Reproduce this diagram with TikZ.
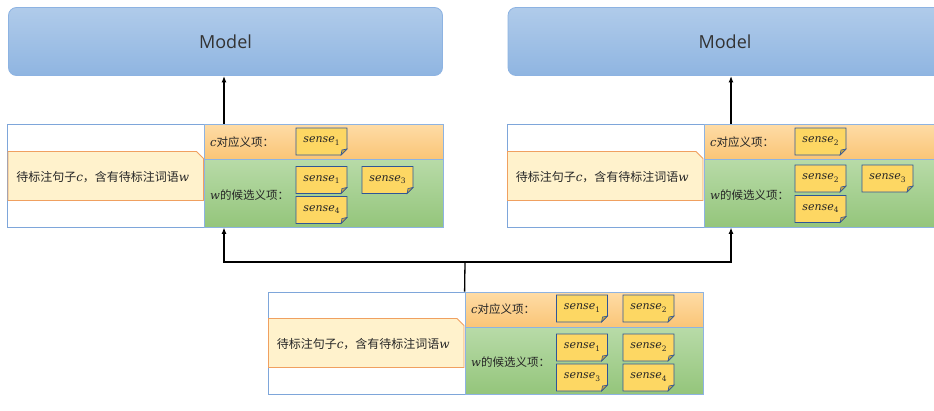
\documentclass[tikz,border=0pt]{standalone}
\usepackage{fontspec}
\newfontfamily\cjk{Noto Sans CJK SC}
\newfontfamily\modelfont{Open Sans}
\newfontfamily\mif{DejaVu Serif}
\newcommand\mi[1]{{\mif\itshape #1}}
\usetikzlibrary{arrows.meta,calc}
\definecolor{modeltop}{HTML}{B0CBEA}
\definecolor{modelbot}{HTML}{8FB5E1}
\definecolor{blueline}{HTML}{8DB3E2}
\definecolor{outerline}{HTML}{7EA6DA}
\definecolor{orangetop}{HTML}{FEDCA6}
\definecolor{orangebot}{HTML}{FAC577}
\definecolor{greentop}{HTML}{B8DBA8}
\definecolor{greenbot}{HTML}{94C57B}
\definecolor{inputfill}{HTML}{FFF2CC}
\definecolor{inputline}{HTML}{F0A060}
\definecolor{sensefillc}{HTML}{FDD763}
\definecolor{senseline}{HTML}{2F5597}
\definecolor{sensefoldc}{HTML}{C9A640}
\newcommand\sensecard[3]{%
  \filldraw[sensefill] ($(#2)+(-25.5,-13.5)$) -- ++(51,0) -- ++(0,21) -- ++(-6,6) -- ++(-45,0) -- cycle;
  \filldraw[sensefold] ($(#2)+(25.5,7.5)$) -- ++(-6,6) -- ++(1,-5) -- cycle;
  \node[sensetext] (#1) at (#2) {\mi{sense}\raisebox{-2.4pt}{\mif\fontsize{7.5}{8}\selectfont #3}};}
\newcommand\inputcard[2]{%
  \filldraw[inputshape] ($(#2)+(-97.75,-24.5)$) -- ++(188.5,0) -- ++(7,7) -- ++(0,42) -- ++(-195.5,0) -- cycle;
  \node[inputtext] (#1) at ($(#2)+(-3,1)$) {\cjk 待标注句子\mi{c}，含有待标注词语\mi{w}};}
\tikzset{
  modelbox/.style={draw=blueline, line width=0.8pt, rounded corners=8pt,
    top color=modeltop, bottom color=modelbot, font=\modelfont\fontsize{18}{20}\selectfont,
    text=black!80, minimum height=68pt, minimum width=434pt},
  outerbox/.style={draw=outerline, line width=0.8pt, fill=white, minimum width=197pt, minimum height=103pt},
  orangebar/.style={draw=blueline, line width=0.8pt, top color=orangetop, bottom color=orangebot,
    minimum width=239pt, minimum height=35pt},
  greenbar/.style={draw=blueline, line width=0.8pt, top color=greentop, bottom color=greenbot,
    minimum width=239pt, minimum height=68pt},
  inputshape/.style={draw=inputline, line width=0.9pt, fill=inputfill},
  inputtext/.style={font=\fontsize{12}{14}\selectfont, text=black!85, inner sep=0pt},
  lbl/.style={anchor=west, font=\fontsize{11.5}{13}\selectfont, text=black!85, inner sep=0pt},
  sensefill/.style={draw=senseline, line width=0.9pt, fill=sensefillc},
  sensefold/.style={draw=senseline, line width=0.6pt, fill=sensefoldc},
  sensetext/.style={minimum width=51pt, minimum height=27pt, inner sep=0pt,
    font=\fontsize{11}{12}\selectfont, text=black!85, yshift=0.5pt},
  arr/.style={line width=1.3pt, -{Latex[length=6.5pt,width=5pt]}},
}
\begin{document}
\begin{tikzpicture}[x=1pt,y=-1pt]
\useasboundingbox (0,0) rectangle (934,410);
\clip (0,0) rectangle (934,410);
\fill[white] (0,0) rectangle (934,410);

% Model boxes
\node[modelbox] (m1) at (225.5,41.5) {Model};
\node[modelbox] (m2) at (725,41.5) {Model};

% Left group
\node[outerbox] (o1) at (106,175.5) {};
\node[orangebar] (ob1) at (323.5,141.5) {};
\node[greenbar] (g1) at (323.5,193) {};
\inputcard{in1}{105.75,176}
\node[lbl] (lc1) at (210,142) {\mi{c}{\cjk 对应义项：}};
\node[lbl] (lw1) at (210,195) {\mi{w}{\cjk 的候选义项：}};
\sensecard{s11}{321.5,141.5}{1}
\sensecard{s12}{321.5,180}{1}
\sensecard{s13}{387.5,180}{3}
\sensecard{s14}{321.5,210}{4}

% Right group
\node[outerbox] (o2) at (605.5,175.5) {};
\node[orangebar] (ob2) at (823.5,141.5) {};
\node[greenbar] (g2) at (823.5,193) {};
\inputcard{in2}{605.25,176}
\node[lbl] (lc2) at (710,142) {\mi{c}{\cjk 对应义项：}};
\node[lbl] (lw2) at (710,195) {\mi{w}{\cjk 的候选义项：}};
\sensecard{s21}{820.5,141.5}{2}
\sensecard{s22}{820.5,178.5}{2}
\sensecard{s23}{887.5,178.5}{3}
\sensecard{s24}{820.5,209}{4}

% Bottom group
\node[outerbox, minimum height=102pt] (o3) at (366.5,343) {};
\node[orangebar, minimum width=238pt] (ob3) at (584,309.5) {};
\node[greenbar, minimum width=238pt, minimum height=67pt] (g3) at (584,360.5) {};
\inputcard{in3}{366.25,343}
\node[lbl] (lc3) at (471,309) {\mi{c}{\cjk 对应义项：}};
\node[lbl] (lw3) at (471,362) {\mi{w}{\cjk 的候选义项：}};
\sensecard{s31}{582,308.5}{1}
\sensecard{s32}{648.5,308.5}{2}
\sensecard{s33}{582,347.5}{1}
\sensecard{s34}{648.5,347.5}{2}
\sensecard{s35}{582,377.5}{3}
\sensecard{s36}{648.5,377.5}{4}

% connectors
\coordinate (a1) at (224,0);
\coordinate (a2) at (731,0);
\coordinate (j) at (465,262);
\draw[arr] (a1 |- ob1.north) -- (a1 |- m1.south);
\draw[arr] (a2 |- ob2.north) -- (a2 |- m2.south);
\draw[line width=1.3pt] (ob3.north west) -- (j);
\draw[arr] (j) -| (a1 |- g1.south);
\draw[arr] (j) -| (a2 |- g2.south);
\end{tikzpicture}
\end{document}
